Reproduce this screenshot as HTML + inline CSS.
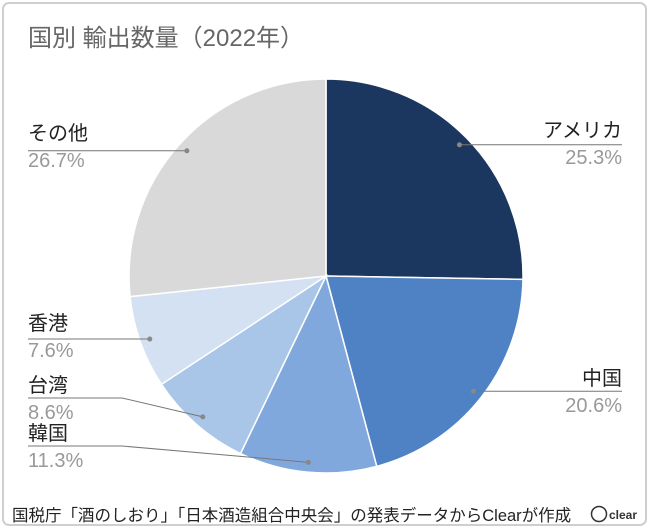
<!DOCTYPE html>
<html><head><meta charset="utf-8"><style>
body{margin:0;background:#fff;font-family:"Liberation Sans","Noto Sans CJK JP",sans-serif}
svg{display:block}
</style></head><body>
<svg width="650" height="532">
<rect x="3" y="3" width="643" height="522" rx="6" fill="#fff" stroke="#cfcfcf" stroke-width="2"/>
<text x="28" y="46" font-size="24" fill="#666">国別 輸出数量（2022年）</text>
<g id="pie"></g>
<g id="labels"></g>
<text x="12" y="521" font-size="16.5" fill="#222">国税庁「酒のしおり」「日本酒造組合中央会」の発表データからClearが作成</text>
<g>
<circle cx="599" cy="514" r="7.5" fill="none" stroke="#333" stroke-width="1.5"/>
<text x="609" y="519" font-size="12" font-weight="bold" fill="#333">clear</text>
</g>
</svg>
<script>
const categories=["アメリカ","中国","韓国","台湾","香港","その他"];
const values=[25.3,20.6,11.3,8.6,7.6,26.7];
const pctLabels=["25.3%","20.6%","11.3%","8.6%","7.6%","26.7%"];
const colors=["#1b365f","#4f82c4","#80a8dd","#a9c5e7","#d3e1f3","#d9d9d9"];
const cx=326,cy=276,R=197;
const NS="http://www.w3.org/2000/svg";
const total=values.reduce((a,b)=>a+b,0);
const pie=document.getElementById('pie'),lab=document.getElementById('labels');
function pt(a,r){return [cx+r*Math.sin(a),cy-r*Math.cos(a)];}
let a0=0;
// [side, name baseline-ish y, bent?]
const layout=[["r",130,false],["r",378,false],["l",433,true],["l",385,true],["l",323,false],["l",133,false]];
values.forEach((v,i)=>{
  const a1=a0+v/total*2*Math.PI;
  const p0=pt(a0,R),p1=pt(a1,R);
  const large=(a1-a0)>Math.PI?1:0;
  const path=document.createElementNS(NS,'path');
  path.setAttribute('d',`M${cx},${cy}L${p0[0]},${p0[1]}A${R},${R} 0 ${large} 1 ${p1[0]},${p1[1]}Z`);
  path.setAttribute('fill',colors[i]);path.setAttribute('stroke','#fff');path.setAttribute('stroke-width','1.5');
  
  
  pie.appendChild(path);
  const mid=(a0+a1)/2, d=pt(mid,R*0.95);
  const [side,ny,bent]=layout[i];
  const x=side==="r"?622:28;
  const ly=bent?ny+13:d[1];
  const bend=bent?122:d[0];
  const line=document.createElementNS(NS,'polyline');
  line.setAttribute('points',`${d[0]},${d[1]} ${bend},${ly} ${x},${ly}`);
  line.setAttribute('fill','none');line.setAttribute('stroke','#777');line.setAttribute('stroke-width','1');
  
  
  lab.appendChild(line);
  const dot=document.createElementNS(NS,'circle');
  dot.setAttribute('cx',d[0]);dot.setAttribute('cy',d[1]);dot.setAttribute('r',2.5);dot.setAttribute('fill','#888');
  
  
  lab.appendChild(dot);
  const t1=document.createElementNS(NS,'text');
  t1.setAttribute('x',x);t1.setAttribute('y',ny+7);t1.setAttribute('font-size','20');t1.setAttribute('fill','#222');
  t1.setAttribute('text-anchor',side==="r"?"end":"start");t1.textContent=categories[i];
  
  
  lab.appendChild(t1);
  const t2=document.createElementNS(NS,'text');
  t2.setAttribute('x',x);t2.setAttribute('y',ny+34);t2.setAttribute('font-size','20');t2.setAttribute('fill','#999');
  t2.setAttribute('text-anchor',side==="r"?"end":"start");t2.textContent=pctLabels[i];
  
  
  lab.appendChild(t2);
  a0=a1;
});
</script>
</body></html>
